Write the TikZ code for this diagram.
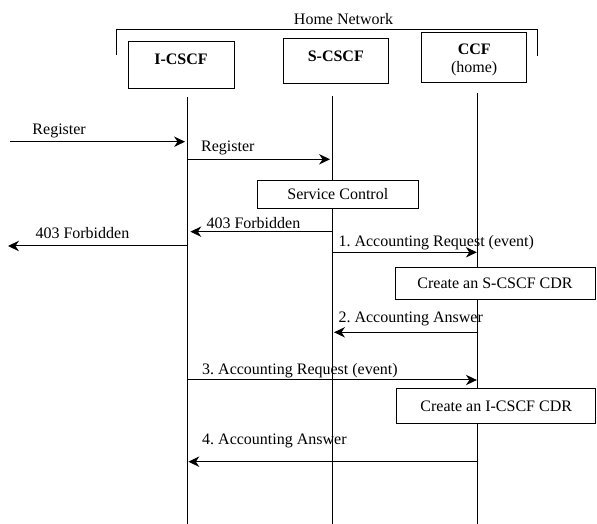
\documentclass[tikz,border=0pt]{standalone}
\usepackage{fontspec}
\setmainfont{Liberation Serif}
\usetikzlibrary{arrows.meta}
\frenchspacing
\begin{document}
\begin{tikzpicture}[x=0.75pt,y=-0.75pt,
  line width=0.75pt,
  every node/.style={font=\fontsize{12}{14}\selectfont, inner sep=0pt},
  entbox/.style={draw, line width=0.75pt, rectangle},
  actbox/.style={draw, line width=0.75pt, rectangle},
  lifeline/.style={line width=0.75pt},
  msg/.style={line width=0.75pt, -{Stealth[length=8.2pt, width=7.8pt, inset=2.6pt]}, shorten >=2pt},
  lbl/.style={anchor=base west},
  hdr/.style={font=\fontsize{12}{14}\selectfont\bfseries}
]
\useasboundingbox (0,0) rectangle (597,524);

% Home network bracket
\node[anchor=base] (hn) at (343.5,25) {Home Network};
\coordinate (bl) at (116.7,55);
\coordinate (br) at (537.7,56);
\draw (bl) |- (343.5,29.3) -| (br);

% entity boxes
\node[entbox, minimum width=106*0.75pt, minimum height=47*0.75pt] (ibox) at (181,65.3) {};
\node[hdr] (it) at (181,59.3) {I-CSCF};
\node[entbox, minimum width=105*0.75pt, minimum height=45*0.75pt] (sbox) at (335.8,61.5) {};
\node[hdr] (st) at (335.8,56.5) {S-CSCF};
\node[entbox, minimum width=105*0.75pt, minimum height=50*0.75pt] (cbox) at (474.2,57.3) {};
\node[align=center] (ct) at (474.2,60) {\textbf{CCF}\\[-1pt](home)};

% lifelines
\coordinate (it0) at (187.7,97);
\coordinate (ib) at (187.7,524);
\coordinate (st0) at (332.7,96);
\coordinate (sb) at (332.7,524);
\coordinate (ct0) at (477.5,93);
\coordinate (cb) at (477.5,524);
\draw[lifeline] (it0) -- (ib);
\draw[lifeline] (st0) -- (sb);
\draw[lifeline] (ct0) -- (cb);

% activity boxes
\node[actbox, fill=white, minimum width=161*0.75pt, minimum height=28*0.75pt] (svc) at (337.8,194.2) {Service Control};
\node[actbox, fill=white, minimum width=200*0.75pt, minimum height=32*0.75pt] (scdr) at (495,283.2) {Create an S-CSCF CDR};
\node[actbox, fill=white, minimum width=198.5*0.75pt, minimum height=34*0.75pt] (icdr) at (496.2,406) {Create an I-CSCF CDR};

% message end points
\coordinate (e1) at (10,141.7);
\coordinate (i1) at (187.7,141.7);
\coordinate (i2) at (187.7,159.3);
\coordinate (s2) at (332.7,159.3);
\coordinate (s3) at (332.7,231.7);
\coordinate (i3) at (187.7,231.7);
\coordinate (i4) at (187.7,246);
\coordinate (e4) at (8,246);
\coordinate (s5) at (332.7,252.3);
\coordinate (c5) at (477.5,252.3);
\coordinate (c6) at (477.5,332.3);
\coordinate (s6) at (332.7,332.3);
\coordinate (i7) at (187.7,380);
\coordinate (c7) at (477.5,380);
\coordinate (c8) at (477.5,461.7);
\coordinate (i8) at (187.7,461.7);

% messages
\draw[msg] (e1) -- (i1);
\node[lbl] (l1) at (32,135) {Register};
\draw[msg] (i2) -- (s2);
\node[lbl] (l2) at (200.7,152) {Register};
\draw[msg] (s3) -- (i3);
\node[lbl] (l3) at (206,228.3) {403 Forbidden};
\draw[msg, shorten >=0pt] (i4) -- (e4);
\node[lbl] (l4) at (35,239) {403 Forbidden};
\draw[msg, shorten >=0.5pt] (s5) -- (c5);
\node[lbl] (l5) at (338,247) {1. Accounting Request (event)};
\draw[msg, shorten >=1pt] (c6) -- (s6);
\node[lbl] (l6) at (338,323) {2. Accounting Answer};
\draw[msg, shorten >=0.5pt] (i7) -- (c7);
\node[lbl] (l7) at (201.7,374.5) {3. Accounting Request (event)};
\draw[msg, shorten >=0.5pt] (c8) -- (i8);
\node[lbl] (l8) at (201.7,445) {4. Accounting Answer};
\end{tikzpicture}
\end{document}
